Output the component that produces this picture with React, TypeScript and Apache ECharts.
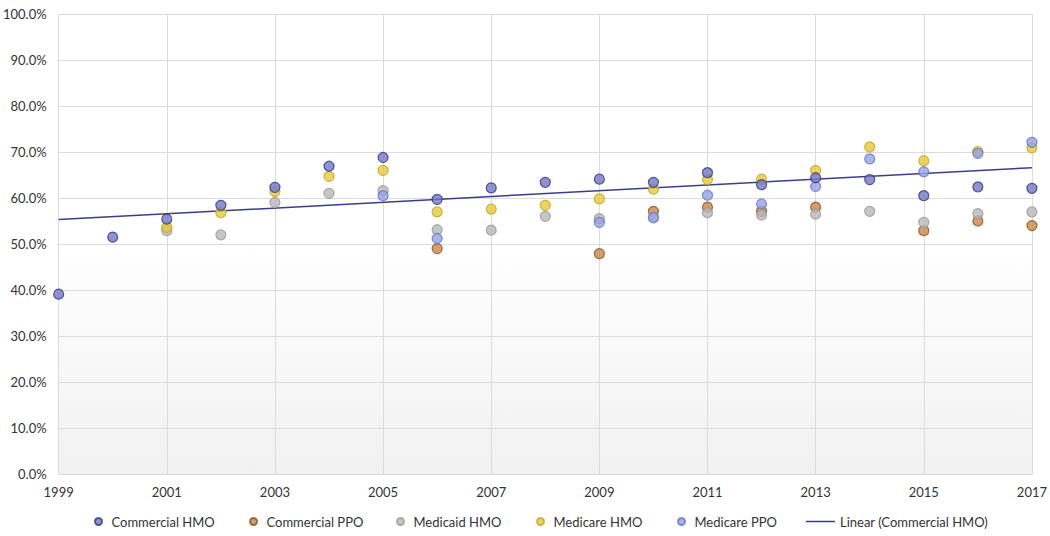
import React, { useEffect, useRef } from "react";
import * as echarts from "echarts";

const years = [1999, 2000, 2001, 2002, 2003, 2004, 2005, 2006, 2007, 2008, 2009, 2010, 2011, 2012, 2013, 2014, 2015, 2016, 2017];

const commercialHMO = [39.1, 51.5, 55.4, 58.4, 62.3, 66.9, 68.8, 59.7, 62.2, 63.4, 64.1, 63.4, 65.5, 62.9, 64.4, 64.0, 60.5, 62.4, 62.1];
const commercialPPO = [null, null, null, null, null, null, null, 49.0, null, null, 47.9, 57.1, 58.0, 57.1, 58.0, null, 52.9, 55.0, 54.0];
const medicaidHMO = [null, null, 52.9, 52.0, 59.0, 61.0, 61.6, 53.1, 53.0, 56.0, 55.5, 55.9, 56.8, 56.3, 56.5, 57.1, 54.7, 56.6, 57.0];
const medicareHMO = [null, null, 53.6, 56.8, 61.4, 64.7, 66.0, 57.0, 57.6, 58.4, 59.8, 61.9, 64.0, 64.1, 66.0, 71.1, 68.1, 70.1, 70.9];
const medicarePPO = [null, null, null, null, null, null, 60.5, 51.2, null, null, 54.7, 55.7, 60.6, 58.7, 62.5, 68.5, 65.7, 69.7, 72.1];

const trendYears = [1999, 2017];
const trendValues = [55.3, 66.6];

const seriesNames = ["Commercial HMO", "Commercial PPO", "Medicaid HMO", "Medicare HMO", "Medicare PPO"];
const trendName = "Linear (Commercial HMO)";

const baseYear = 1999;

export default function App() {
  const ref = useRef<HTMLDivElement>(null);
  useEffect(() => {
    document.body.style.margin = "0";
    const chart = echarts.init(ref.current!, null, { renderer: "svg" });
    const toPts = (vals: (number | null)[]) =>
      years.map((y, i) => (vals[i] == null ? null : [y - baseYear, vals[i]])).filter((p) => p !== null);

    const styles = [
      { fill: "#7478c8", border: "#33367e" },
      { fill: "#c98748", border: "#8a5322" },
      { fill: "#b8b8b8", border: "#9a9a9a" },
      { fill: "#e6cb3a", border: "#c4a623" },
      { fill: "#95a3e6", border: "#6877c4" },
    ];
    const datasets = [commercialHMO, commercialPPO, medicaidHMO, medicareHMO, medicarePPO];
    const font = "Lato, 'Open Sans', sans-serif";
    const trendColor = "#3a3d8f";

    const scatterSeries = datasets.map((d, i) => ({
      name: seriesNames[i],
      type: "scatter",
      data: toPts(d),
      symbol: "circle",
      symbolSize: 10,
      itemStyle: { color: styles[i].fill, borderColor: styles[i].border, borderWidth: 1.2 },
      z: i === 0 ? 3 : 2,
    }));

    const legendLefts = [89, 244, 391, 531, 672];
    const legendText = { color: "#333333", fontSize: 13, fontFamily: font };
    const scatterLegends = seriesNames.map((n, i) => ({
      top: 510,
      left: legendLefts[i],
      itemWidth: 16,
      itemHeight: 7,
      itemGap: 0,
      itemTextGap: 9,
      textStyle: legendText,
      data: [{ name: n, icon: "circle" }],
    }));

    chart.setOption({
      animation: false,
      backgroundColor: "#ffffff",
      textStyle: { fontFamily: font },
      grid: {
        left: 58,
        right: 18,
        top: 14,
        bottom: 62,
        show: true,
        borderWidth: 0,
        backgroundColor: new echarts.graphic.LinearGradient(0, 0, 0, 1, [
          { offset: 0, color: "#ffffff" },
          { offset: 0.5, color: "#ffffff" },
          { offset: 1, color: "#f1f1f1" },
        ]),
      },
      xAxis: {
        type: "value",
        min: 0,
        max: 18,
        interval: 2,
        axisLine: { show: true, lineStyle: { color: "#d9d9d9", width: 1 } },
        axisTick: { show: false },
        splitLine: { show: true, lineStyle: { color: "#dcdcdc", width: 1 } },
        axisLabel: {
          color: "#333333",
          fontSize: 13,
          fontFamily: font,
          margin: 11,
          formatter: (v: number) => String(baseYear + v),
        },
      },
      yAxis: {
        type: "value",
        min: 0,
        max: 100,
        interval: 10,
        axisLine: { show: false },
        axisTick: { show: false },
        splitLine: { show: true, lineStyle: { color: "#dcdcdc", width: 1 } },
        axisLabel: {
          color: "#333333",
          fontSize: 13,
          fontFamily: font,
          margin: 12,
          formatter: (v: number) => v.toFixed(1) + "%",
        },
      },
      legend: [
        ...scatterLegends,
        {
          top: 510,
          left: 801,
          itemWidth: 29,
          itemHeight: 1.5,
          itemGap: 0,
          itemTextGap: 1,
          textStyle: legendText,
          data: [{ name: trendName, icon: "rect" }],
        },
      ],
      series: [
        ...scatterSeries,
        {
          name: trendName,
          type: "line",
          data: trendYears.map((y, i) => [y - baseYear, trendValues[i]]),
          symbol: "none",
          lineStyle: { color: trendColor, width: 1.5 },
          itemStyle: { color: trendColor },
          z: 2,
        },
      ],
    });
    return () => chart.dispose();
  }, []);
  return <div ref={ref} style={{ width: 1050, height: 536 }} />;
}
